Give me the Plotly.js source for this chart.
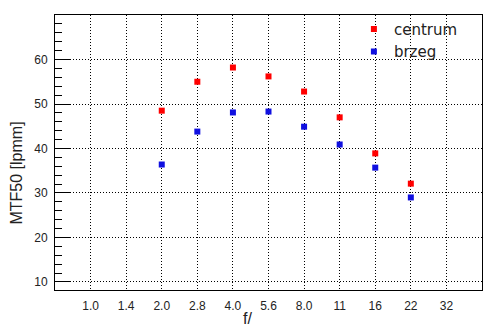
<!DOCTYPE html>
<html><head><meta charset="utf-8">
<script src="https://cdn.plot.ly/plotly-3.0.1.min.js"></script>
<style>body{margin:0;background:#fff}#chart{width:494px;height:331px}</style>
</head><body><div id="chart"></div>
<script>
const fStops = ['1.0','1.4','2.0','2.8','4.0','5.6','8.0','11','16','22','32'];
const measuredStops = ['2.0','2.8','4.0','5.6','8.0','11','16','22'];
const centrum = [48.5,55.0,58.2,56.2,52.8,47.0,38.9,32.1];
const brzeg = [36.4,43.8,48.1,48.3,44.9,40.9,35.7,29.0];
const yTicks = [10,20,30,40,50,60];
const seriesNames = ['centrum','brzeg'];
const xTitle = 'f/';
const yTitle = 'MTF50 [lpmm]';

const sans = '"Liberation Sans", Arial, sans-serif';
const tickFont = {family:sans, size:12, color:'#222'};
const traces = [
  {x:measuredStops, y:centrum, name:seriesNames[0], type:'scatter', mode:'markers',
   marker:{symbol:'square', size:6, color:'#ff0000'}},
  {x:measuredStops, y:brzeg, name:seriesNames[1], type:'scatter', mode:'markers',
   marker:{symbol:'square', size:6, color:'#1010e0'}}
];
const yRange = [8.2, 70];
const layout = {
  width:494, height:331,
  margin:{l:55, r:12, t:15, b:41},
  paper_bgcolor:'#fff', plot_bgcolor:'#fff',
  showlegend:true,
  legend:{x:0.70, xanchor:'left', y:1.008, yanchor:'top', bgcolor:'rgba(0,0,0,0)',
    font:{family:'"DejaVu Sans", sans-serif', size:15, color:'#222'},
    itemwidth:30, tracegroupgap:4},
  shapes:[{type:'rect', xref:'paper', yref:'paper', x0:0.752, x1:0.998, y0:0.785, y1:0.997,
    fillcolor:'#fff', line:{width:0}, layer:'between'}],
  annotations:[
    {text:yTitle, xref:'paper', yref:'paper', x:-38.5/427, y:(290-173)/275, xanchor:'center', yanchor:'middle',
     textangle:-90, showarrow:false, font:{family:sans, size:16, color:'#222'}},
    {text:xTitle, xref:'paper', yref:'paper', x:(247-55)/427, y:-(318-290)/275, xanchor:'center', yanchor:'middle',
     showarrow:false, font:{family:sans, size:16, color:'#222'}}
  ],
  xaxis:{type:'category', categoryorder:'array', categoryarray:fStops, range:[-1,11],
    tickvals:fStops, ticktext:fStops,
    showgrid:true, gridcolor:'#000', gridwidth:1, griddash:'1px,2px',
    showline:true, linecolor:'#000', linewidth:1, mirror:true, ticks:'',
    ticklabelstandoff:5, tickfont:tickFont},
  yaxis:{range:yRange, tickvals:yTicks, ticktext:yTicks.map(String),
    showgrid:true, gridcolor:'#000', gridwidth:1, griddash:'1px,2px', zeroline:false,
    showline:true, linecolor:'#000', linewidth:1, mirror:true,
    ticks:'inside', ticklen:15, tickwidth:1, tickcolor:'#000',
    minor:{dtick:2, tick0:0, ticks:'inside', ticklen:7, tickwidth:1, tickcolor:'#000', showgrid:false},
    ticklabelstandoff:4, tickfont:tickFont},
  yaxis2:{range:yRange, overlaying:'y', side:'right', tickvals:yTicks, showticklabels:false,
    showgrid:false, zeroline:false, showline:false,
    ticks:'inside', ticklen:15, tickwidth:1, tickcolor:'#000',
    minor:{dtick:2, tick0:0, ticks:'inside', ticklen:7, tickwidth:1, tickcolor:'#000', showgrid:false}}
};
Plotly.newPlot('chart', traces, layout, {displayModeBar:false, staticPlot:true});
</script>
</body></html>
